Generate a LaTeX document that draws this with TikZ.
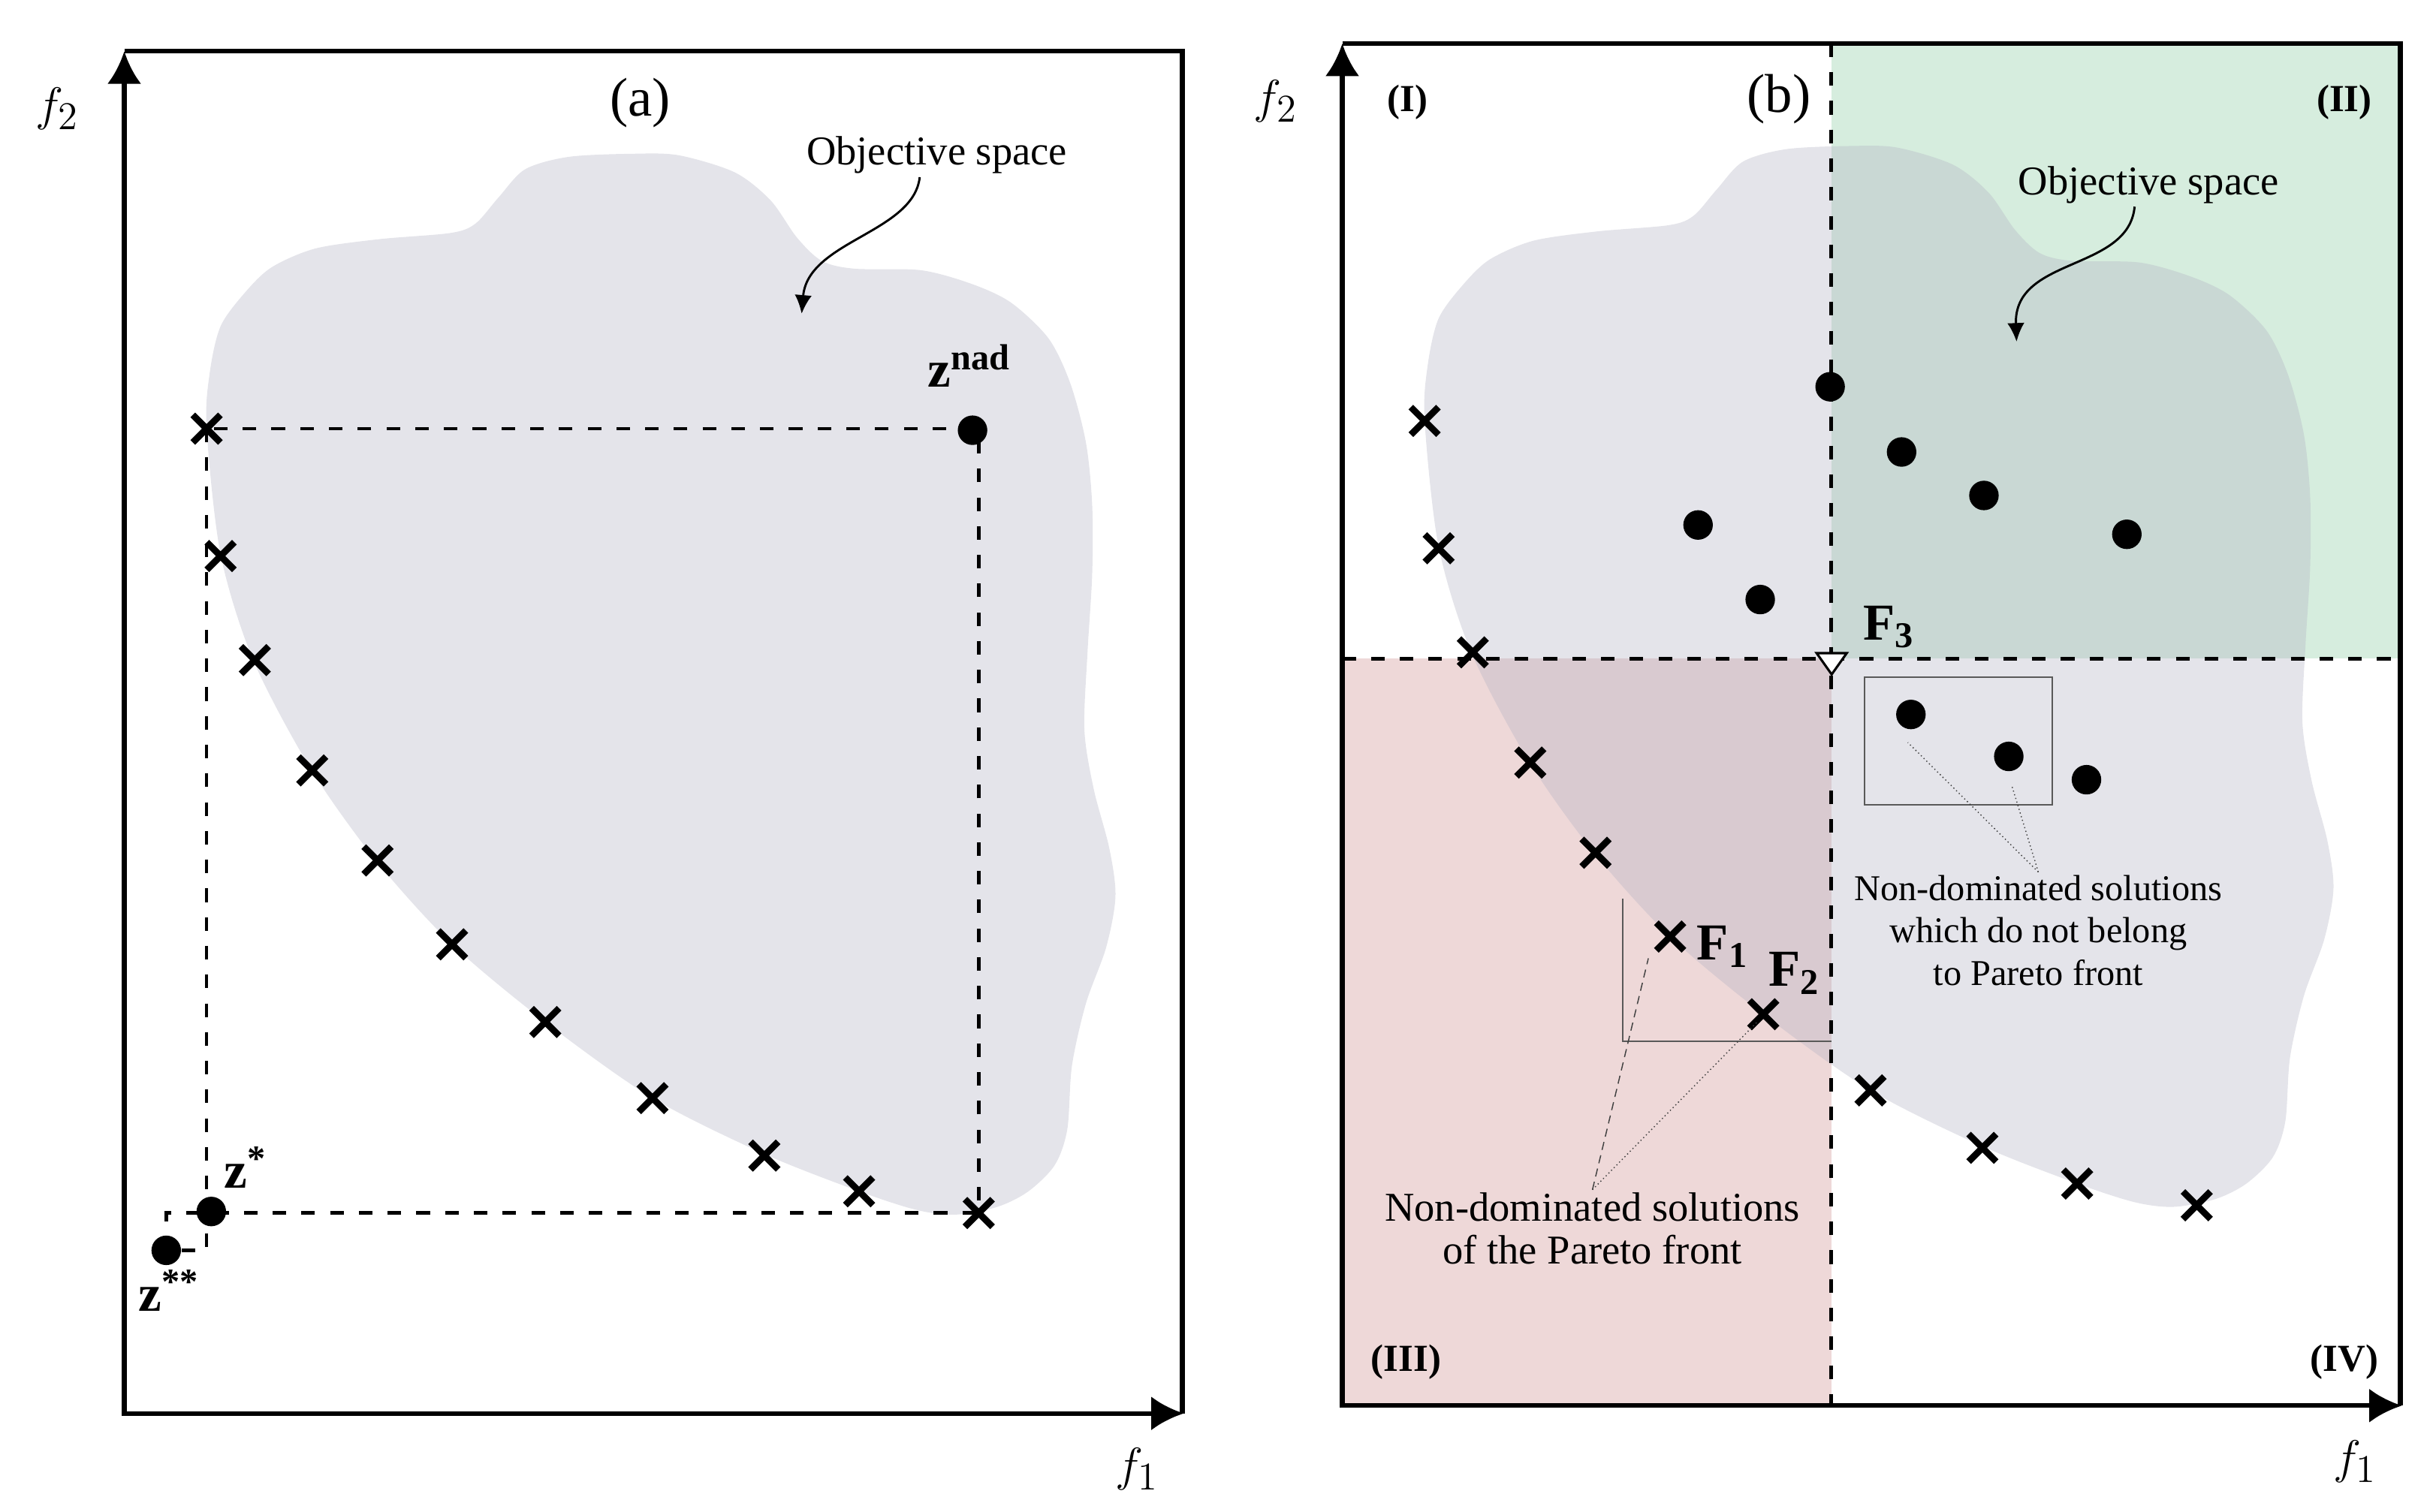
\documentclass[tikz,border=0pt]{standalone}
\usepackage{fontspec}
\setmainfont{Liberation Serif}
\usetikzlibrary{arrows.meta,shapes.misc}

\definecolor{spacegray}{RGB}{178,178,195}
\definecolor{quadgreen}{RGB}{214,237,222}
\definecolor{quadpink}{RGB}{238,216,216}

\begin{document}
\begin{tikzpicture}[x=0.2mm,y=-0.2mm,>={Latex[length=4.2mm,width=4.4mm]},
    axis/.style={line width=0.6mm},
    gridline/.style={line width=0.45mm,dash pattern=on 1.75mm off 1.95mm},
    cross/.style={cross out,draw,line width=0.85mm,minimum size=2.7mm,inner sep=0pt},
    sol/.style={circle,fill,inner sep=0pt,minimum size=3.8mm},
    pointer/.style={densely dotted,line width=0.4pt,black!75},
    thinbox/.style={line width=0.6pt,black!65},
    bend arrow/.style={-{Latex[length=2.4mm,width=2.2mm]},line width=0.8pt},
    axlab/.style={font=\fontsize{19}{21}\selectfont},
    caption/.style={font=\fontsize{20}{24}\selectfont},
    tag/.style={font=\fontsize{14}{16}\selectfont\bfseries},
    note/.style={align=center,inner sep=1pt,font=\fontsize{15}{15.5}\selectfont},
    ptlab/.style={anchor=base west,inner sep=0pt,font=\fontsize{19}{21}\selectfont\bfseries}]

\useasboundingbox (0,0) rectangle (1568,973);

% quadrants (II) and (III)
\fill[quadgreen] (1178.7,28) rectangle (1545,424);
\fill[quadpink] (864,424) rectangle (1178.7,905);

% both panels: objective space, axes, Pareto points
\foreach \dx/\dy/\p in {0/0/a,784/-5/b}{
\begin{scope}[shift={(\dx,\dy)}]
  \fill[spacegray,fill opacity=0.35] plot[smooth cycle,tension=0.5] coordinates {
    (133,276) (135,240) (142,210) (158,188) (175,172) (203,160) (244,154) (290,150)
    (306,144) (321,127) (338,109) (366,101) (407,99) (437,100) (473,111) (496,129)
    (513,153) (529,168) (550,173) (593,174) (626,183) (651,195) (675,218) (689,247)
    (699,285) (703,325) (703,370) (700,420) (698,470) (704,508) (714,546) (718,577)
    (712,610) (699,646) (690,686) (687,727) (679,750) (662,767) (642,777) (615,782)
    (590,779) (553,767) (492,743) (420,707) (351,658) (291,608) (242,554) (200,495)
    (163,425) (142,357)};
  \coordinate (o\p) at (80,910);
  \coordinate (t\p) at (80,33);
  \coordinate (r\p) at (762,910);
  \coordinate (c\p) at (761,33);
  \draw[axis,<->] (t\p) -- (o\p) -- (r\p);
  \draw[axis] (t\p) -- (c\p) -- (c\p |- o\p);
  \node[axlab] (fy\p) at (37,70) {$f_2$};
  \node[axlab] (fx\p) at (732,946) {$f_1$};
  \foreach \u/\v [count=\i] in {133/276,142/358,164/425,201/496,243/554,291/608,
      351/658,420/707,492/744,553/767,630/781}
    \node[cross] (x\p\i) at (\u,\v) {};
\end{scope}}

% (a) ideal, utopian and nadir points
\node[sol] (znad) at (626,277) {};
\node[sol] (zst) at (136,780) {};
\node[sol] (zss) at (107,805) {};
\draw[gridline] (xa1.center) -- (xa1.center |- zss.center) -- (zss.center)
  -- (zss.center |- xa11.center) -- (xa11.center) |- (xa1.center);
\node[ptlab] (lnad) at (597,249) {z\textsuperscript{nad}};
\node[ptlab] (lst) at (144,765) {z\textsuperscript{*}};
\node[ptlab] (lss) at (89,844) {z\textsuperscript{**}};
\node[caption] (capa) at (412,66) {(a)};
\node[note] (osa) at (603,100) {Objective space};
\coordinate (tipa) at (516,202);
\draw[bend arrow] ([xshift=-2.2mm]osa.south) .. controls (588,150) and (520,155) .. (tipa);

% (b) quadrants around F3
\coordinate (qt) at (1178.7,28);
\coordinate (qb) at (1178.7,905);
\coordinate (ql) at (864,424);
\coordinate (qr) at (1545,424);
\draw[gridline] (qt) -- (qb);
\draw[gridline] (ql) -- (qr);
\coordinate (f3) at (1179,424);
\draw[fill=white,line width=0.3mm] (f3) ++(-9.7,-3.5) -- ++(19.4,0) -- ++(-9.7,13.7) -- cycle;

\foreach \u/\v [count=\i] in {1178/249,1224/291,1277/319,1369/344,1093/338,1133/386,
    1230/460,1293/487,1343/502}
  \node[sol] (s\i) at (\u,\v) {};

\node[caption] (capb) at (1145,64) {(b)};
\node[tag] (q1) at (906,66) {(I)};
\node[tag] (q2) at (1509,66) {(II)};
\node[tag] (q3) at (905,877) {(III)};
\node[tag] (q4) at (1509,877) {(IV)};
\node[ptlab] (lf1) at (1092,618) {F\textsubscript{1}};
\node[ptlab] (lf2) at (1138,635) {F\textsubscript{2}};
\node[ptlab] (lf3) at (1199,412) {F\textsubscript{3}};

\node[note] (osb) at (1383,119) {Objective space};
\coordinate (tipb) at (1298,220);
\draw[bend arrow] ([xshift=-1.8mm]osb.south) .. controls (1370,175) and (1296,165) .. (tipb);

\draw[thinbox] (1044.5,578.5) |- (1178.7,670.6);
\draw[thinbox] (1200,436) rectangle (1321,518);

\node[note] (ndp) at (1025,791) {Non-dominated solutions\\of the Pareto front};
\coordinate (pf1) at (1061,617);
\coordinate (pf2) at (1131,658);
\draw[pointer,densely dashed] (ndp.north) -- (pf1);
\draw[pointer] (ndp.north) -- (pf2);

\node[note,font=\fontsize{13.3}{15.5}\selectfont] (ndo) at (1312,599)
  {Non-dominated solutions\\which do not belong\\to Pareto front};
\coordinate (po1) at (1228,478);
\coordinate (po2) at (1295,506);
\draw[pointer] (ndo.north) -- (po1);
\draw[pointer] (ndo.north) -- (po2);
\end{tikzpicture}
\end{document}
